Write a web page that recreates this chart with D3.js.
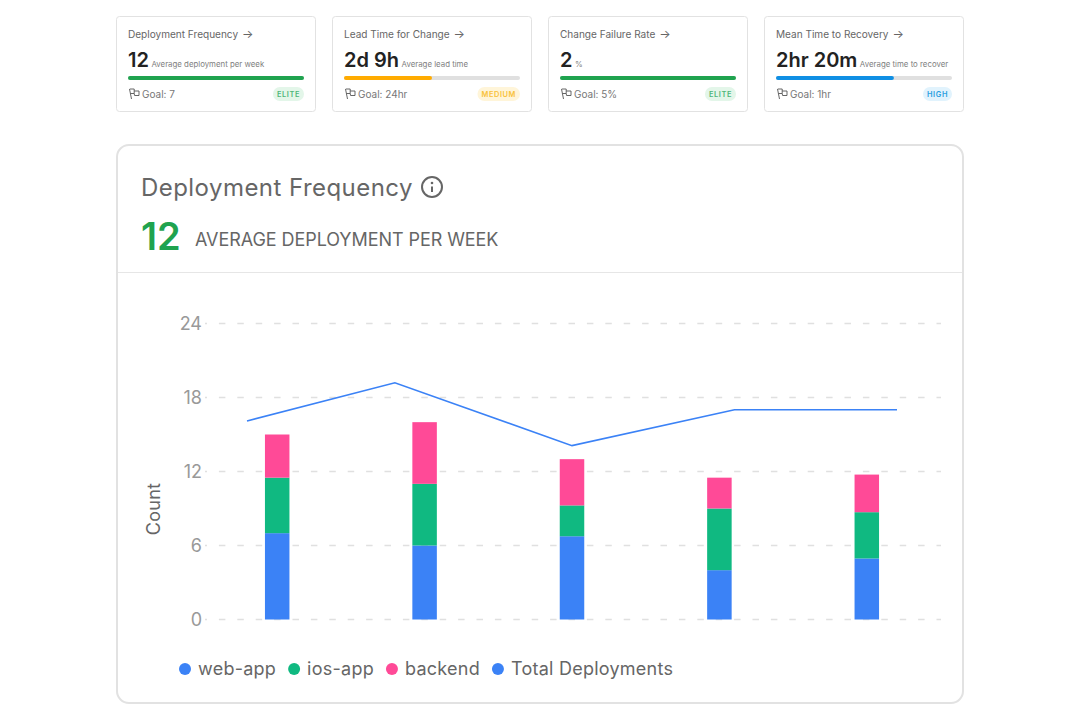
<!DOCTYPE html>
<html>
<head>
<meta charset="utf-8">
<script src="https://cdn.jsdelivr.net/npm/d3@7"></script>
<style>
  html, body { margin: 0; padding: 0; background: #fff; }
  svg { display: block; }
  text { font-family: Inter, sans-serif; }
</style>
</head>
<body>
<svg width="1080" height="720"></svg>
<script>
// chart data
var weeks = ['w1', 'w2', 'w3', 'w4', 'w5'];
var webApp = [7, 6, 6.75, 4, 4.95];
var iosApp = [4.5, 5, 2.5, 5, 3.75];
var backend = [3.5, 5, 3.75, 2.5, 3.05];
var totalDeployments = [16.1, 19.2, 14.1, 17, 17];
// the line does not sit on the bars, its points are read off in week units
var totalWeekPos = [0, 0.91, 2, 3, 4];
var yTicks = [0, 6, 12, 18, 24];
var seriesNames = ['web-app', 'ios-app', 'backend', 'Total Deployments'];
var seriesColors = ['#3b82f6', '#10b981', '#ff4a97', '#3b82f6'];

// cards on top
var cardTitles = ['Deployment Frequency', 'Lead Time for Change', 'Change Failure Rate', 'Mean Time to Recovery'];
var cardValues = ['12', '2d 9h', '2', '2hr 20m'];
var cardNotes = ['Average deployment per week', 'Average lead time', '%', 'Average time to recover'];
var cardGoals = ['Goal: 7', 'Goal: 24hr', 'Goal: 5%', 'Goal: 1hr'];
var cardBadges = ['ELITE', 'MEDIUM', 'ELITE', 'HIGH'];
var cardProgress = [1, 0.5, 1, 0.67];
var badgeFill = { ELITE: '#e3f6e9', MEDIUM: '#fff5d9', HIGH: '#e1f3fd' };
var badgeText = { ELITE: '#4fb67a', MEDIUM: '#f9c23c', HIGH: '#2a9fe0' };
var barFill = { ELITE: '#1fa34f', MEDIUM: '#ffab00', HIGH: '#0f8fe4' };

var svg = d3.select('svg');

// **** cards ****
var cardX = d3.scaleBand().domain(d3.range(4)).range([116, 980]).paddingInner(0);

var cards = svg.selectAll('g.card').data(cardTitles).enter().append('g')
    .attr('class', 'card')
    .attr('transform', function(d, i) { return 'translate(' + cardX(i) + ',16)'; });

cards.append('rect')
    .attr('x', 0.5).attr('y', 0.5)
    .attr('width', 199).attr('height', 95)
    .attr('rx', 3)
    .attr('fill', '#fff')
    .attr('stroke', '#e2e2e2');

cards.append('text')
    .attr('x', 12).attr('y', 22)
    .attr('font-size', 10.05)
    .attr('fill', '#666')
    .text(function(d) { return d; })
    .append('tspan')
    .attr('dx', 4)
    .attr('font-size', 12)
    .text('\u2192');

var valueText = cards.append('text')
    .attr('x', 12).attr('y', 51)
    .attr('fill', '#222');

valueText.append('tspan')
    .attr('font-size', 20)
    .attr('font-weight', 600)
    .text(function(d, i) { return cardValues[i]; });

valueText.append('tspan')
    .attr('dx', 2.5)
    .attr('font-size', 7.85)
    .attr('fill', '#808080')
    .text(function(d, i) { return cardNotes[i]; });

var progressX = d3.scaleLinear().domain([0, 1]).range([0, 176]);

cards.append('rect')
    .attr('x', 12).attr('y', 60)
    .attr('width', progressX(1)).attr('height', 4)
    .attr('rx', 2)
    .attr('fill', '#e0e0e0');

cards.append('rect')
    .attr('x', 12).attr('y', 60)
    .attr('width', function(d, i) { return progressX(cardProgress[i]); })
    .attr('height', 4)
    .attr('rx', 2)
    .attr('fill', function(d, i) { return barFill[cardBadges[i]]; });

// little flag
cards.append('path')
    .attr('transform', 'translate(13,72)')
    .attr('d', 'M0.5 1L2.5 11M0.8 1H5.2V5.5H1.6M5.2 3H10V7.5H5.6L5.2 5.5')
    .attr('fill', 'none')
    .attr('stroke', '#555')
    .attr('stroke-width', 0.9);

cards.append('text')
    .attr('x', 26).attr('y', 82)
    .attr('font-size', 10)
    .attr('fill', '#777')
    .text(function(d, i) { return cardGoals[i]; });

var badges = cards.append('g');
badges.append('text')
    .attr('class', 'badge')
    .attr('x', 184).attr('y', 81)
    .attr('text-anchor', 'end')
    .attr('font-size', 7.4)
    .attr('font-weight', 600)
    .attr('letter-spacing', 0.6)
    .attr('fill', function(d, i) { return badgeText[cardBadges[i]]; })
    .text(function(d, i) { return cardBadges[i]; });
badges.insert('rect', 'text')
    .attr('y', 71)
    .attr('height', 14)
    .attr('rx', 7)
    .attr('fill', function(d, i) { return badgeFill[cardBadges[i]]; })
    .each(function() {
        var len = this.parentNode.querySelector('text').getComputedTextLength();
        d3.select(this).attr('x', 188 - len - 8).attr('width', len + 8);
    });

// **** main panel ****
svg.append('rect')
    .attr('x', 117).attr('y', 145)
    .attr('width', 846).attr('height', 558)
    .attr('rx', 12)
    .attr('fill', '#fff')
    .attr('stroke', '#e2e2e2')
    .attr('stroke-width', 2);

svg.append('line')
    .attr('x1', 118).attr('x2', 962)
    .attr('y1', 272.5).attr('y2', 272.5)
    .attr('stroke', '#e6e6e6');

svg.append('text')
    .attr('x', 141).attr('y', 196)
    .attr('font-size', 24)
    .attr('letter-spacing', 0.45)
    .attr('fill', '#666')
    .text('Deployment Frequency');

// info icon
var info = svg.append('g').attr('transform', 'translate(432,187)');
info.append('circle').attr('r', 10).attr('fill', 'none').attr('stroke', '#666').attr('stroke-width', 2);
info.append('circle').attr('cy', -4).attr('r', 1.3).attr('fill', '#666');
info.append('line').attr('y1', -0.5).attr('y2', 5).attr('stroke', '#666').attr('stroke-width', 2);

svg.append('text')
    .attr('x', 141).attr('y', 250)
    .attr('font-size', 38)
    .attr('font-weight', 600)
    .attr('fill', '#1fa34f')
    .text('12');

svg.append('text')
    .attr('x', 195).attr('y', 246)
    .attr('font-size', 18)
    .attr('letter-spacing', -0.07)
    .attr('fill', '#666')
    .text('AVERAGE DEPLOYMENT PER WEEK');

// **** chart ****
var xScale = d3.scaleBand().domain(weeks).range([203.5, 940.5]);
var barW = 24.5;
var yScale = d3.scaleLinear().domain([0, 24]).range([619.5, 323.5]);
var lineX = d3.scaleLinear().domain([0, 4]).range([247, 897]);

var yAxis = svg.append('g')
    .attr('class', 'y axis')
    .attr('transform', 'translate(205,0)')
    .call(d3.axisLeft(yScale).tickValues(yTicks).tickSize(0).tickPadding(3));

yAxis.select('.domain').remove();
yAxis.selectAll('text')
    .attr('font-size', 18)
    .attr('fill', '#999')
    .style('font-family', 'Inter, sans-serif');

svg.append('g').selectAll('line').data(yTicks).enter().append('line')
    .attr('x1', 205).attr('x2', 941)
    .attr('y1', function(d) { return yScale(d); })
    .attr('y2', function(d) { return yScale(d); })
    .attr('stroke', '#e0e0e0')
    .attr('stroke-width', 1.5)
    .attr('stroke-dasharray', '6.5 11.9')
    .attr('stroke-dashoffset', 4.5);

var stackRows = weeks.map(function(w, i) {
    return { week: w, web: webApp[i], ios: iosApp[i], backend: backend[i] };
});
var stacked = d3.stack().keys(['web', 'ios', 'backend'])(stackRows);

svg.append('g').selectAll('g').data(stacked).enter().append('g')
    .attr('fill', function(d, i) { return seriesColors[i]; })
    .selectAll('rect').data(function(d) { return d; }).enter().append('rect')
    .attr('x', function(d) { return xScale(d.data.week) + xScale.bandwidth() / 2 - barW / 2; })
    .attr('y', function(d) { return yScale(d[1]); })
    .attr('width', barW)
    .attr('height', function(d) { return yScale(d[0]) - yScale(d[1]); });

var line = d3.line()
    .x(function(d, i) { return lineX(totalWeekPos[i]); })
    .y(function(d) { return yScale(d); });

svg.append('path')
    .datum(totalDeployments)
    .attr('d', line)
    .attr('fill', 'none')
    .attr('stroke', seriesColors[3])
    .attr('stroke-width', 1.5);

svg.append('text')
    .attr('transform', 'translate(159.5,509) rotate(-90)')
    .attr('text-anchor', 'middle')
    .attr('font-size', 18)
    .attr('letter-spacing', 0.3)
    .attr('fill', '#666')
    .text('Count');

// **** legend ****
var legendX = 185;
seriesNames.forEach(function(name, i) {
    svg.append('circle')
        .attr('cx', legendX).attr('cy', 669).attr('r', 6)
        .attr('fill', seriesColors[i]);
    var label = svg.append('text')
        .attr('x', legendX + 13).attr('y', 675)
        .attr('font-size', 18)
        .attr('letter-spacing', 0.25)
        .attr('fill', '#666')
        .text(name);
    legendX += 13 + label.node().getComputedTextLength() + 18;
});
</script>
</body>
</html>
